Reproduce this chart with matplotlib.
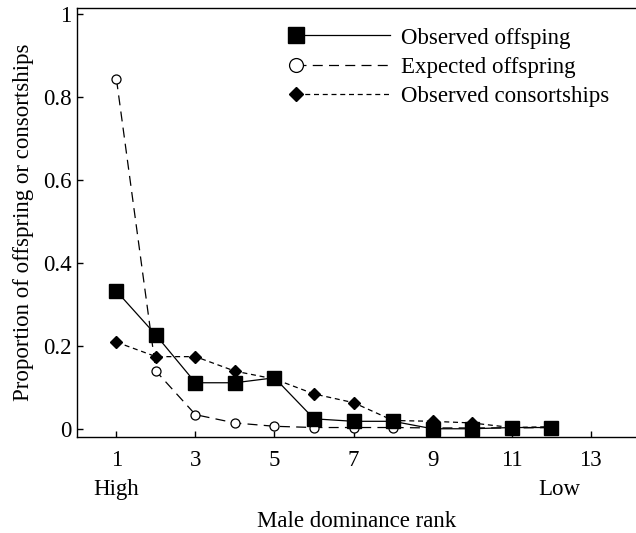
import numpy as np
import matplotlib
matplotlib.use("Agg")
import matplotlib.pyplot as plt
from matplotlib.lines import Line2D
from matplotlib.legend_handler import HandlerLine2D
from matplotlib.ticker import FuncFormatter

# data
rank = [1, 2, 3, 4, 5, 6, 7, 8, 9, 10, 11, 12]
obs_offspring = [0.332, 0.226, 0.111, 0.111, 0.123, 0.024, 0.018, 0.018, 0.0, 0.0, 0.003, 0.003]
exp_offspring = [0.843, 0.139, 0.034, 0.014, 0.006, 0.003, 0.003, 0.003, 0.002, 0.002, 0.002, 0.003]
obs_consort = [0.209, 0.174, 0.174, 0.139, 0.12, 0.084, 0.063, 0.02, 0.018, 0.014, 0.003, 0.005]

labels = ["Observed offsping", "Expected offspring", "Observed consortships"]
xticks = [1, 3, 5, 7, 9, 11, 13]
yticks = [0, 0.2, 0.4, 0.6, 0.8, 1]


class LeftMarker(HandlerLine2D):
    # marker only at the left end of the legend sample
    def create_artists(self, *args, **kw):
        arts = super().create_artists(*args, **kw)
        for a in arts:
            a.set_markevery([0])
        return arts


plt.rcParams.update({'font.family': 'Liberation Serif',
                     'font.size': 16.5,
                     'axes.linewidth': 1.0})

fig = plt.figure(figsize=(6.36, 5.33), dpi=100)
ax = fig.add_axes([0.121, 0.18, 0.879, 0.805])

ax.plot(rank, exp_offspring, color='black', lw=0.9, ls=(0, (8, 5)),
        marker='o', ms=6.5, mfc='white', mec='black', mew=0.9, zorder=2)
ax.plot(rank, obs_consort, color='black', lw=0.9, ls=(0, (4, 3)),
        marker='D', ms=6, mfc='black', mec='black', zorder=3)
ax.plot(rank, obs_offspring, color='black', lw=0.9, ls='-',
        marker='s', ms=10, mfc='black', mec='black', zorder=4)

ax.set_xlim(0, 14.15)
ax.set_ylim(-0.02, 1.015)
ax.spines['right'].set_visible(False)
ax.set_xticks(xticks)
ax.set_yticks(yticks)
ax.yaxis.set_major_formatter(FuncFormatter(lambda v, p: '%g' % v))
ax.tick_params(direction='in', length=4.5, width=1.0, pad=4)
ax.tick_params(axis='x', pad=9)

ax.set_ylabel("Proportion of offspring or consortships", labelpad=6)
ax.set_xlabel("Male dominance rank")
ax.xaxis.set_label_coords(0.5, -0.172)
tr = ax.get_xaxis_transform()
ax.text(1, -0.123, "High", transform=tr, ha='center', va='center')
ax.text(12.2, -0.123, "Low", transform=tr, ha='center', va='center')

handles = [
    Line2D([], [], color='black', lw=0.9, ls='-', marker='s', ms=11),
    Line2D([], [], color='black', lw=0.9, ls=(0, (8, 5)), marker='o', ms=10,
           mfc='white', mew=0.9),
    Line2D([], [], color='black', lw=0.9, ls=(0, (4, 3)), marker='D', ms=7.5),
]
ax.legend(handles, labels, loc='upper left', bbox_to_anchor=(0.363, 0.976),
          frameon=False, numpoints=2, handlelength=4.7, handletextpad=0.2,
          labelspacing=0.35, borderaxespad=0,
          handler_map={Line2D: LeftMarker()})

fig.savefig("out.png", dpi=100)
